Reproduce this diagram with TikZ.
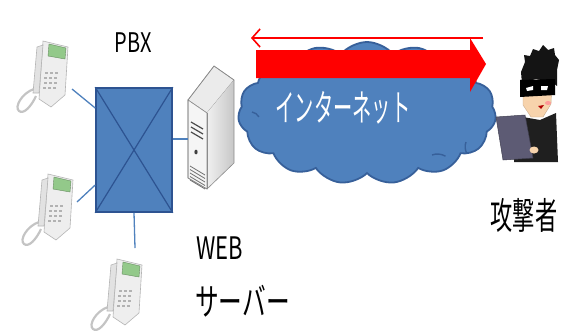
\documentclass[tikz,border=0pt]{standalone}
\usepackage{fontspec}
\usepackage{graphicx}
\setmainfont{Noto Sans CJK JP}
\usetikzlibrary{shapes.symbols,arrows.meta}

\definecolor{netblue}{HTML}{4F81BD}
\definecolor{netedge}{HTML}{37609A}
\definecolor{pbxedge}{HTML}{2D5391}
\definecolor{phonebody}{HTML}{EEEEEE}
\definecolor{phoneedge}{HTML}{B5B5B5}
\definecolor{phonelcd}{HTML}{93C98A}
\definecolor{skin}{HTML}{F7D3AC}
\definecolor{laptop}{HTML}{5D5B74}

% condensed lettering
\newcommand\narrowtxt[2]{\scalebox{#1}[1]{#2}}

\tikzset{
  lbl/.style={inner sep=0pt, text=black},
  wire/.style={draw=netblue, line width=1.3pt},
  pbxbox/.style={draw=pbxedge, fill=netblue, line width=1.6pt, inner sep=0pt},
  deskphone/.pic={
    % curly cord
    \draw[phoneedge!80, line width=2.2pt] (24,54) .. controls (12,58) and (4,72) .. (9,76)
         .. controls (14,80) and (22,70) .. (26,61);
    % base
    \filldraw[fill=phonebody, draw=phoneedge, line width=0.6pt]
      (33,6) -- (58,12) -- (55,60) -- (41,72) -- (29,64) -- cycle;
    % display
    \filldraw[fill=phonelcd, draw=phonelcd!70!black, line width=0.4pt]
      (39,9) -- (56,13) -- (55,24) -- (38,21) -- cycle;
    % keypad
    \foreach \r in {0,...,3}{
      \foreach \c in {0,1,2}{
        \fill[black!30] (35+\c*5-\r*0.6,37+\r*5) rectangle ++(3,2.4);
      }
    }
    % handset
    \filldraw[fill=phonebody!95!black, draw=phoneedge, line width=0.6pt]
      (27,12) -- (33,10) -- (29,58) -- (23,58) -- cycle;
  }
}

\begin{document}
\begin{tikzpicture}[x=1pt,y=-1pt]
\useasboundingbox (0,0) rectangle (561,330);

% ---------- internet cloud ----------
\node[cloud, cloud puffs=15, cloud puff arc=100, cloud ignores aspect, minimum width=258pt,
      minimum height=142pt, fill=netblue, draw=netedge, line width=1.8pt] (net) at (367,113) {};
% inner fold lines of the cloud
\draw[netedge, line width=1.4pt] (466,142) arc[start angle=200, end angle=150, radius=14];
\draw[netedge, line width=1.4pt] (432,155) arc[start angle=250, end angle=300, radius=16];
\draw[netedge, line width=1.4pt] (252,112) arc[start angle=-80, end angle=-30, radius=10];
\node[text=white, font=\fontsize{37}{37}\selectfont, inner sep=0pt] (nettext) at (343,108)
      {\narrowtxt{0.52}{インターネット}};

% ---------- arrows over the cloud ----------
\coordinate (backfrom) at (483,38);
\coordinate (backto) at (251,38);
\fill[red] (256,50) -- (470,50) -- (470,38) -- (486,64) -- (470,92) -- (470,78) -- (256,78) -- cycle;
\draw[red, line width=1.6pt, -{Straight Barb[length=8pt,width=18pt]}] (backfrom) -- (backto);

% ---------- PBX ----------
\node[pbxbox, minimum width=76pt, minimum height=124pt] (pbx) at (134,150) {};
\draw[pbxedge, line width=1.2pt] (pbx.north west) -- (pbx.south east);
\draw[pbxedge, line width=1.2pt] (pbx.north east) -- (pbx.south west);
\node[lbl, font=\fontsize{27}{27}\selectfont] (pbxlabel) at (133,43) {\narrowtxt{0.74}{PBX}};

% ---------- telephones ----------
\pic at (10,35) {deskphone};
\pic at (15,168) {deskphone};
\pic at (84,253) {deskphone};
\coordinate (phoneA) at (72,89);
\coordinate (phoneB) at (77,202);
\coordinate (phoneC) at (135,248);
\draw[wire] (phoneA) -- (pbx.north west |- 0,108);
\draw[wire] (phoneB) -- (pbx.north west |- 0,185);
\draw[wire] (phoneC) -- (pbx.south);

% ---------- web server ----------
\coordinate (srv) at (188,139);
\filldraw[fill=black!8, draw=black!45, line width=0.6pt]
  (188,100) -- (214,66) -- (234,80) -- (207,113) -- cycle;
\filldraw[fill=black!4, draw=black!45, line width=0.6pt]
  (188,100) -- (207,113) -- (207,189) -- (188,178) -- cycle;
\shade[left color=black!6, right color=black!22]
  (207,113) -- (234,80) -- (234,163) -- (207,189) -- cycle;
\draw[black!45, line width=0.6pt] (188,100) -- (214,66) -- (234,80) -- (234,163) -- (207,189) -- (188,178) -- cycle;
\draw[black!45, line width=0.6pt] (207,113) -- (207,189);
\foreach \k in {0,1,2}{\draw[black!70, line width=1.2pt] (191,122+\k*5) -- (203,129+\k*5);}
\fill[black!75] (196,152) ellipse (1.6 and 2.4);
\foreach \k in {0,...,4}{\draw[black!55, line width=0.8pt] (190,166+\k*3.5) -- (205,175+\k*3.5);}
\draw[wire] (pbx.east |- srv) -- (srv);
\node[lbl, font=\fontsize{31}{31}\selectfont, anchor=west] (weblabel) at (196,248) {\narrowtxt{0.71}{WEB}};
\node[lbl, font=\fontsize{37}{37}\selectfont, anchor=west] (srvlabel) at (195,301) {\narrowtxt{0.64}{サーバー}};

% ---------- attacker ----------
\fill[black!88] (517,116) -- (540,120) -- (556,113) -- (558,162) -- (514,162) -- cycle;
\filldraw[fill=skin, draw=skin!80!black, line width=0.4pt]
  (523,80) -- (552,80) -- (551,104) -- (543,117) -- (531,117) -- (523,105) -- cycle;
\fill[black!92] (522,84) -- (521,72) -- (525,62) -- (524,55) -- (530,56) -- (533,49)
  -- (539,51) -- (543,45) -- (548,50) -- (554,48) -- (555,55) -- (559,60)
  -- (557,70) -- (557,86) -- (552,82) -- (536,79) -- (525,82) -- cycle;
\fill[black] (520,80) -- (555,79) -- (555,95) -- (520,97) -- cycle;
\fill[white] (526,88) -- (533,86) -- (533,90) -- (527,91) -- cycle;
\fill[white] (541,86) -- (548,86) -- (547,90) -- (541,90) -- cycle;
\fill[red!40] (548,103) ellipse (3 and 2);
\fill[red!70!black] (538,106) -- (544,105) -- (541,109) -- cycle;
\filldraw[fill=laptop, draw=laptop!70!black, line width=0.5pt]
  (496,117) -- (525,115) -- (533,158) -- (503,160) -- cycle;
\fill[skin] (534,150) ellipse (4.5 and 3.5);
\node[lbl, font=\fontsize{37}{37}\selectfont] (attlabel) at (524,215) {\narrowtxt{0.6}{攻撃者}};

\end{tikzpicture}
\end{document}
